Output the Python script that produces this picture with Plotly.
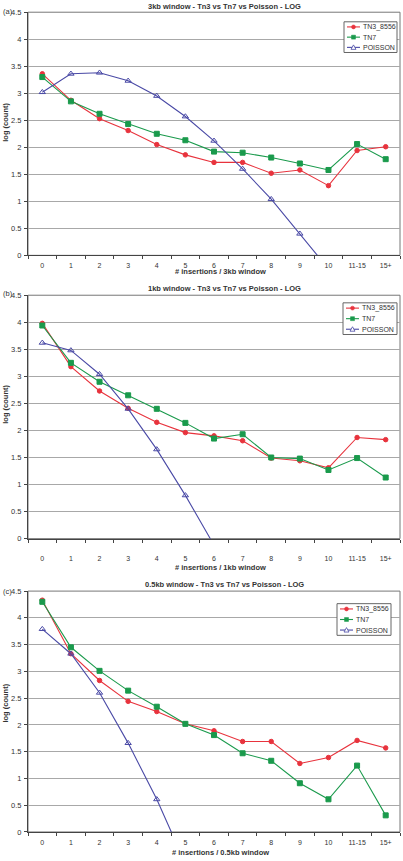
import plotly.graph_objects as go

W, H = 403, 861

categories = ["0", "1", "2", "3", "4", "5", "6", "7", "8", "9", "10", "11-15", "15+"]
series_names = ["TN3_8556", "TN7", "POISSON"]

# Panel (a) 3kb window
a_tn3 = [3.36, 2.87, 2.53, 2.31, 2.05, 1.86, 1.72, 1.72, 1.52, 1.58, 1.29, 1.94, 2.01]
a_tn7 = [3.30, 2.85, 2.62, 2.43, 2.25, 2.13, 1.92, 1.90, 1.81, 1.70, 1.58, 2.06, 1.78]
a_poisson = [3.02, 3.36, 3.38, 3.23, 2.95, 2.57, 2.12, 1.60, 1.04, 0.40, -0.25, None, None]

# Panel (b) 1kb window
b_tn3 = [3.98, 3.18, 2.73, 2.41, 2.15, 1.96, 1.90, 1.81, 1.49, 1.44, 1.31, 1.87, 1.83]
b_tn7 = [3.94, 3.25, 2.90, 2.65, 2.40, 2.14, 1.85, 1.93, 1.50, 1.48, 1.27, 1.49, 1.13]
b_poisson = [3.62, 3.48, 3.04, 2.40, 1.65, 0.80, -0.12, None, None, None, None, None, None]

# Panel (c) 0.5kb window
c_tn3 = [4.33, 3.33, 2.83, 2.44, 2.25, 2.02, 1.89, 1.69, 1.69, 1.28, 1.39, 1.71, 1.57]
c_tn7 = [4.30, 3.45, 3.01, 2.64, 2.34, 2.02, 1.81, 1.47, 1.33, 0.91, 0.61, 1.24, 0.31]
c_poisson = [3.79, 3.33, 2.60, 1.66, 0.61, -0.59, None, None, None, None, None, None, None]

titles = ["3kb window - Tn3 vs Tn7 vs Poisson - LOG",
          "1kb window - Tn3 vs Tn7 vs Poisson - LOG",
          "0.5kb window - Tn3 vs Tn7 vs Poisson - LOG"]
xtitles = ["# insertions / 3kb window", "# insertions / 1kb window", "# insertions / 0.5kb window"]
panel_labels = ["(a)", "(b)", "(c)"]
y_ticks = [0, 0.5, 1, 1.5, 2, 2.5, 3, 3.5, 4, 4.5]

panels = [(a_tn3, a_tn7, a_poisson), (b_tn3, b_tn7, b_poisson), (c_tn3, c_tn7, c_poisson)]

RED = "#e8333d"
GREEN = "#1a9a4c"
BLUE = "#4a4aa6"
FONT = "Liberation Sans, Arial, sans-serif"
TXT = "#333333"

def px(x):
    return x / W

def py(y):
    return 1 - y / H

# pixel layout
plot_left, plot_right = 28, 400
panel_geo = [
    dict(top=8.3, bot=254.0, title_y=3.0, xtitle_y=270.0, lab_y=7.5, ytitle_y=120, standoff=3,
         leg=(344, 18, 397, 49)),
    dict(top=294.3, bot=540.3, title_y=288.0, xtitle_y=569.5, lab_y=293.0, ytitle_y=405, standoff=13,
         leg=(343, 302, 397, 334)),
    dict(top=593.3, bot=836.7, title_y=586.7, xtitle_y=857.5, lab_y=593.3, ytitle_y=707, standoff=4,
         leg=(337, 606, 391, 638)),
]

fig = go.Figure()
layout = dict(
    width=W, height=H,
    margin=dict(l=0, r=0, t=0, b=0),
    paper_bgcolor="white", plot_bgcolor="white",
    showlegend=False,
    font=dict(family=FONT, size=7.5, color=TXT),
)
shapes = []
annotations = []

styles = [
    dict(color=RED, symbol="circle", size=4.5),
    dict(color=GREEN, symbol="square", size=5),
    dict(color=BLUE, symbol="triangle-up-open", size=5.5),
]

for i, (vals, g) in enumerate(zip(panels, panel_geo)):
    sfx = "" if i == 0 else str(i + 1)
    xa, ya = "x" + sfx, "y" + sfx
    for name, v, st in zip(series_names, vals, styles):
        fig.add_trace(go.Scatter(
            x=categories, y=v, name=name, mode="lines+markers",
            xaxis=xa, yaxis=ya,
            line=dict(color=st["color"], width=1.1),
            marker=dict(color=st["color"], symbol=st["symbol"], size=st["size"],
                        line=dict(color=st["color"], width=1)),
            connectgaps=False,
        ))
    layout["xaxis" + sfx] = dict(
        domain=[px(plot_left), px(plot_right)],
        anchor=ya, type="category", categoryorder="array", categoryarray=categories,
        range=[-0.5, 12.5], tickson="boundaries", ticks="outside", ticklen=3,
        tickcolor="#444", showline=True, linecolor="#444", linewidth=1,
        showgrid=False, zeroline=False, tickfont=dict(size=7, color=TXT),
        ticklabelstandoff=g["standoff"],
    )
    layout["yaxis" + sfx] = dict(
        domain=[py(g["bot"]), py(g["top"])],
        anchor=xa, range=[0, 4.5], tickvals=y_ticks, ticks="outside", ticklen=3,
        tickcolor="#444", showline=True, linecolor="#444", linewidth=1,
        showgrid=True, gridcolor="#a8a8a8", gridwidth=1, zeroline=False,
        tickfont=dict(size=7.5, color=TXT), ticklabelstandoff=1,
    )
    # plot-area frame (top and right edges)
    shapes.append(dict(type="rect", xref=xa + " domain", yref=ya + " domain",
                       x0=0, x1=1, y0=0, y1=1, line=dict(color="#777", width=1), layer="below"))
    # titles
    annotations.append(dict(text="<b>" + titles[i] + "</b>", xref="paper", yref="paper",
                            x=px(224), y=py(g["title_y"]), xanchor="center", yanchor="middle",
                            showarrow=False, font=dict(size=7.5, color=TXT)))
    annotations.append(dict(text="<b>" + xtitles[i] + "</b>", xref="paper", yref="paper",
                            x=px(221), y=py(g["xtitle_y"]), xanchor="center", yanchor="middle",
                            showarrow=False, font=dict(size=7.5, color=TXT)))
    annotations.append(dict(text="<b>log (count)</b>", xref="paper", yref="paper",
                            x=px(6), y=py(g["ytitle_y"]), xanchor="center", yanchor="middle",
                            textangle=-90, showarrow=False, font=dict(size=7.5, color=TXT)))
    annotations.append(dict(text=panel_labels[i], xref="paper", yref="paper",
                            x=px(1), y=py(g["lab_y"]), xanchor="left", yanchor="middle",
                            showarrow=False, font=dict(size=7.5, color=TXT)))
    # legend box
    lx0, ly0, lx1, ly1 = g["leg"]
    shapes.append(dict(type="rect", xref="paper", yref="paper",
                       x0=px(lx0), x1=px(lx1), y0=py(ly1), y1=py(ly0),
                       line=dict(color="#666", width=1), fillcolor="white", layer="above"))
    row_h = (ly1 - ly0) / 3.0
    for k, (name, st) in enumerate(zip(series_names, styles)):
        yc = ly0 + row_h * (k + 0.5)
        sx0, sx1 = lx0 + 3, lx0 + 16
        shapes.append(dict(type="line", xref="paper", yref="paper",
                           x0=px(sx0), x1=px(sx1), y0=py(yc), y1=py(yc),
                           line=dict(color=st["color"], width=1.1), layer="above"))
        mx = (sx0 + sx1) / 2
        if st["symbol"] == "circle":
            shapes.append(dict(type="circle", xref="paper", yref="paper",
                               x0=px(mx - 2), x1=px(mx + 2), y0=py(yc + 2), y1=py(yc - 2),
                               line=dict(color=st["color"], width=0.5), fillcolor=st["color"],
                               layer="above"))
        elif st["symbol"] == "square":
            shapes.append(dict(type="rect", xref="paper", yref="paper",
                               x0=px(mx - 2), x1=px(mx + 2), y0=py(yc + 2), y1=py(yc - 2),
                               line=dict(color=st["color"], width=0.5), fillcolor=st["color"],
                               layer="above"))
        else:
            path = "M {:.5f} {:.5f} L {:.5f} {:.5f} L {:.5f} {:.5f} Z".format(
                px(mx - 2.5), py(yc + 2), px(mx + 2.5), py(yc + 2), px(mx), py(yc - 2.5))
            shapes.append(dict(type="path", xref="paper", yref="paper", path=path,
                               line=dict(color=st["color"], width=0.8), fillcolor="white",
                               layer="above"))
        annotations.append(dict(text=name, xref="paper", yref="paper",
                                x=px(sx1 + 1), y=py(yc), xanchor="left", yanchor="middle",
                                showarrow=False, font=dict(size=7, color=TXT)))

layout["shapes"] = shapes
layout["annotations"] = annotations
fig.update_layout(**layout)
fig.write_html(
    "out.html",
    config={"displayModeBar": False},
    post_script="document.body.style.margin='0';document.body.style.overflow='hidden';",
)
